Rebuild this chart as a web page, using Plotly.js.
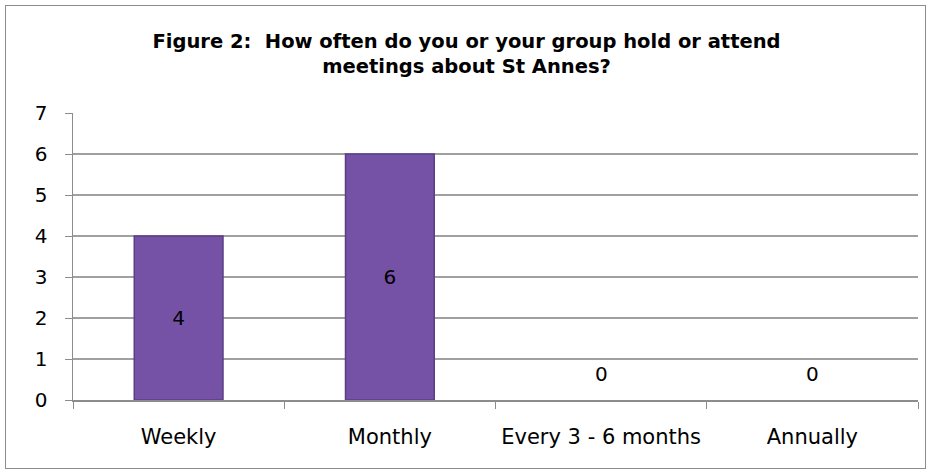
<!DOCTYPE html>
<html>
<head>
<meta charset="utf-8">
<script src="https://cdn.plot.ly/plotly-3.0.1.min.js"></script>
<style>
  html, body { margin: 0; padding: 0; background: #fff; }
  #wrap { position: relative; width: 933px; height: 475px; }
  #chart { width: 933px; height: 475px; }
  #frame { position: absolute; left: 5px; top: 5px; width: 919px; height: 462px; border: 1.5px solid #8c8c8c; pointer-events: none; }
</style>
</head>
<body>
<div id="wrap">
  <div id="chart"></div>
  <div id="frame"></div>
</div>
<script>
const categories = ["Weekly", "Monthly", "Every 3 - 6 months", "Annually"];
const values = [4, 6, 0, 0];
const yTicks = [0, 1, 2, 3, 4, 5, 6, 7];

const fontFam = "'DejaVu Sans', sans-serif";

const trace = {
  type: "bar",
  x: categories,
  y: values,
  text: values.map(v => v > 0 ? String(v) : ""),
  textposition: "inside",
  insidetextanchor: "middle",
  textfont: { family: fontFam, size: 20, color: "#000" },
  marker: {
    color: "#7652a7",
    line: { color: "#5b3e85", width: values.map(v => v > 0 ? 1.5 : 0) }
  },
  hoverinfo: "x+y"
};

// labels for zero-height bars, placed just above the axis
const zeroAnnotations = categories
  .map((c, i) => ({ c, v: values[i] }))
  .filter(d => d.v === 0)
  .map(d => ({
    x: d.c, y: d.v, xref: "x", yref: "y",
    text: String(d.v), showarrow: false,
    yanchor: "bottom", yshift: 12,
    font: { family: fontFam, size: 20, color: "#000" }
  }));

const layout = {
  width: 933,
  height: 475,
  margin: { l: 73, r: 15, t: 113, b: 75 },
  paper_bgcolor: "#fff",
  plot_bgcolor: "#fff",
  bargap: 0.58,
  showlegend: false,
  title: {
    text: "<b>Figure 2:  How often do you or your group hold or attend<br>meetings about St Annes?</b>",
    font: { family: fontFam, size: 19.5, color: "#000" },
    x: 0.5, xanchor: "center",
    y: 0.9, yanchor: "middle"
  },
  annotations: zeroAnnotations,
  xaxis: {
    type: "category",
    showline: true, linecolor: "#8c8c8c", linewidth: 1.5,
    ticks: "outside", tickson: "boundaries", ticklen: 7, tickcolor: "#8c8c8c",
    showgrid: false,
    tickfont: { family: fontFam, size: 21, color: "#000" },
    ticklabelstandoff: 17
  },
  yaxis: {
    range: [0, 7],
    tickvals: yTicks,
    ticktext: yTicks.map(String),
    showline: true, linecolor: "#8c8c8c", linewidth: 1.5,
    ticks: "outside", ticklen: 7, tickcolor: "#8c8c8c",
    showgrid: true, gridcolor: "#a0a0a0", gridwidth: 1.2,
    zeroline: false,
    tickfont: { family: fontFam, size: 20, color: "#000" },
    ticklabelstandoff: 13
  }
};

Plotly.newPlot("chart", [trace], layout, { displayModeBar: false, staticPlot: true });
</script>
</body>
</html>
